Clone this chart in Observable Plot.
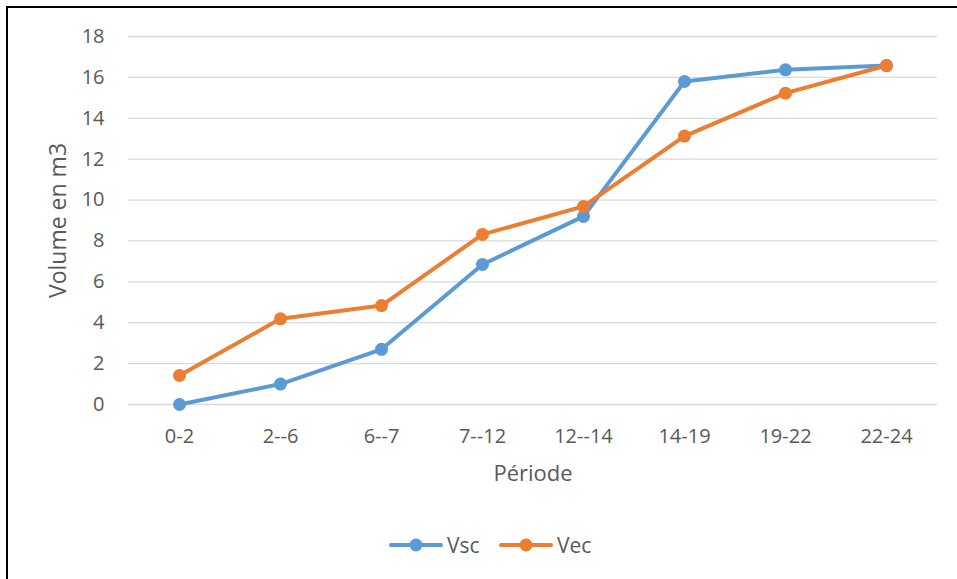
<!DOCTYPE html>
<html><head><meta charset="utf-8">
<script src="https://cdn.jsdelivr.net/npm/d3@7"></script>
<script src="https://cdn.jsdelivr.net/npm/@observablehq/plot@0.6"></script>
<style>
body{margin:0;background:#fff;}
#wrap{position:relative;width:957px;height:579px;overflow:hidden;font-family:"Open Sans",sans-serif;background:#fff;}
#border{position:absolute;left:6px;top:6px;width:1000px;height:1000px;border-left:2px solid #000;border-top:2px solid #000;pointer-events:none;}
#chart{position:absolute;left:0;top:0;}
.leg{position:absolute;top:530px;display:flex;align-items:center;font-size:21px;color:#595959;line-height:30px;}
.leg svg{margin-right:3px;}
</style></head>
<body>
<div id="wrap"><div id="chart"></div><div id="border"></div></div>
<script>
const periods = ["0-2","2--6","6--7","7--12","12--14","14-19","19-22","22-24"];
const vsc = [0, 1.0, 2.7, 6.85, 9.2, 15.8, 16.37, 16.58];
const vec = [1.42, 4.19, 4.84, 8.32, 9.69, 13.13, 15.23, 16.58];
const yTicks = [0,2,4,6,8,10,12,14,16,18];
const seriesNames = ["Vsc","Vec"];
const colors = ["#5B9BD5","#ED7D31"];

const rows = [];
seriesNames.forEach((s, si) => {
  const vals = si === 0 ? vsc : vec;
  periods.forEach((p, i) => rows.push({serie: s, periode: p, v: vals[i]}));
});

const plot = Plot.plot({
  width: 957, height: 579,
  marginTop: 36, marginBottom: 175, marginLeft: 128, marginRight: 20,
  style: {fontFamily: '"Open Sans", sans-serif', fontSize: "20px", color: "#595959", background: "transparent"},
  x: {type: "point", domain: periods, padding: 0.5, label: null},
  y: {domain: [0, 18], label: null},
  color: {domain: seriesNames, range: colors},
  marks: [
    Plot.gridY(yTicks, {stroke: "#d9d9d9", strokeOpacity: 1, strokeWidth: 1.3}),
    Plot.axisY(yTicks, {tickSize: 0, tickPadding: 24, label: null, fontSize: 20, fill: "#595959"}),
    Plot.axisX({tickSize: 0, tickPadding: 24, label: null, fontSize: 20, fill: "#595959"}),
    Plot.text(["Volume en m3"], {frameAnchor: "left", textAnchor: "middle", dx: -70, rotate: -90, fontSize: 23, fill: "#595959"}),
    Plot.text(["Période"], {frameAnchor: "bottom", dy: 76, fontSize: 22, fill: "#595959"}),
    Plot.line(rows, {x: "periode", y: "v", z: "serie", stroke: "serie", strokeWidth: 4, strokeLinejoin: "round", strokeLinecap: "round"}),
    Plot.dot(rows, {x: "periode", y: "v", fill: "serie", r: 6.5, stroke: "none"})
  ]
});
document.getElementById("chart").appendChild(plot);

// legend
const lefts = [388, 498];
seriesNames.forEach((s, i) => {
  const d = document.createElement("div");
  d.className = "leg";
  d.style.left = lefts[i] + "px";
  d.innerHTML = `<svg width="56" height="16"><line x1="3" y1="8" x2="53" y2="8" stroke="${colors[i]}" stroke-width="4" stroke-linecap="round"/><circle cx="28" cy="8" r="6.5" fill="${colors[i]}"/></svg><span>${s}</span>`;
  document.getElementById("wrap").appendChild(d);
});
</script>
</body></html>
